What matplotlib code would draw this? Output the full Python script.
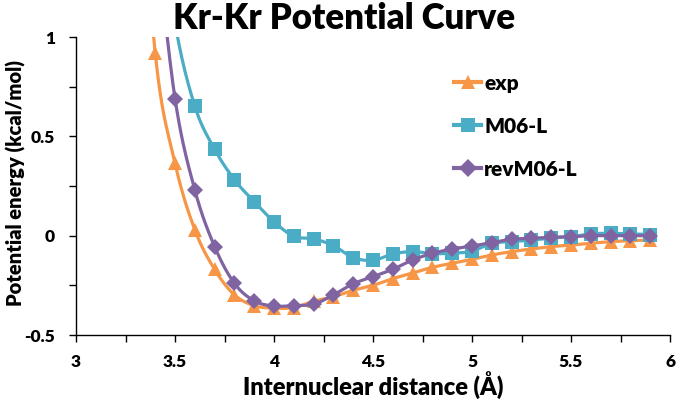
import numpy as np
import matplotlib
matplotlib.use("Agg")
import matplotlib.pyplot as plt

# ---- data ----
x_exp = [3.3, 3.4, 3.5, 3.6, 3.7, 3.8, 3.9, 4.0, 4.1, 4.2, 4.3, 4.4, 4.5, 4.6, 4.7, 4.8, 4.9,
         5.0, 5.1, 5.2, 5.3, 5.4, 5.5, 5.6, 5.7, 5.8, 5.9]
y_exp = [2.3, 0.92, 0.365, 0.03, -0.17, -0.298, -0.352, -0.365, -0.362, -0.33, -0.307, -0.275,
         -0.25, -0.216, -0.188, -0.159, -0.139, -0.119, -0.097, -0.08, -0.067, -0.055, -0.047,
         -0.038, -0.030, -0.025, -0.022]

x_m06 = [3.4, 3.5, 3.6, 3.7, 3.8, 3.9, 4.0, 4.1, 4.2, 4.3, 4.4, 4.5, 4.6, 4.7, 4.8, 4.9, 5.0,
         5.1, 5.2, 5.3, 5.4, 5.5, 5.6, 5.7, 5.8, 5.9]
y_m06 = [1.8, 1.07, 0.652, 0.435, 0.282, 0.171, 0.07, -0.003, -0.016, -0.05, -0.11, -0.124,
         -0.092, -0.08, -0.09, -0.088, -0.078, -0.038, -0.03, -0.022, -0.012, -0.005, 0.009,
         0.012, 0.009, 0.006]

x_rev = [3.4, 3.5, 3.6, 3.7, 3.8, 3.9, 4.0, 4.1, 4.2, 4.3, 4.4, 4.5, 4.6, 4.7, 4.8, 4.9, 5.0,
         5.1, 5.2, 5.3, 5.4, 5.5, 5.6, 5.7, 5.8, 5.9]
y_rev = [1.55, 0.69, 0.23, -0.055, -0.24, -0.328, -0.354, -0.352, -0.345, -0.298, -0.242,
         -0.206, -0.169, -0.122, -0.089, -0.067, -0.052, -0.035, -0.018, -0.013, -0.008, -0.005,
         0.0, 0.0, 0.0, 0.0]

labels = ["exp", "M06-L", "revM06-L"]
colors = ["#F79646", "#4BACC6", "#8064A2"]
markers = ["^", "s", "D"]

x_ticks = [3, 3.5, 4, 4.5, 5, 5.5, 6]
x_ticklabels = ["3", "3.5", "4", "4.5", "5", "5.5", "6"]
y_ticks = [-0.5, 0, 0.5, 1]
y_ticklabels = ["-0.5", "0", "0.5", "1"]


def smooth(x, y, n=20):
    """Catmull-Rom style smoothing (similar to Excel's smoothed lines)."""
    x = np.asarray(x, float)
    y = np.asarray(y, float)
    px = np.concatenate([[2 * x[0] - x[1]], x, [2 * x[-1] - x[-2]]])
    py = np.concatenate([[2 * y[0] - y[1]], y, [2 * y[-1] - y[-2]]])
    xs, ys = [], []
    t = np.linspace(0, 1, n, endpoint=False)
    for i in range(1, len(px) - 2):
        p0, p1, p2, p3 = (np.array([px[j], py[j]]) for j in range(i - 1, i + 3))
        c1 = p1 + (p2 - p0) / 6.0
        c2 = p2 - (p3 - p1) / 6.0
        b = ((1 - t) ** 3)[:, None] * p1 + (3 * (1 - t) ** 2 * t)[:, None] * c1 \
            + (3 * (1 - t) * t ** 2)[:, None] * c2 + (t ** 3)[:, None] * p2
        xs.extend(b[:, 0]); ys.extend(b[:, 1])
    xs.append(x[-1]); ys.append(y[-1])
    return np.array(xs), np.array(ys)


font = "Lato"
W = "heavy"
plt.rcParams["font.family"] = [font, "DejaVu Sans"]
plt.rcParams["font.weight"] = W

fig = plt.figure(figsize=(6.77, 4.03), dpi=100)
ax = fig.add_axes([0.1123, 0.1687, 0.8774, 0.7393])

handles = []
for xd, yd, lab, c, m in [(x_exp, y_exp, labels[0], colors[0], markers[0]),
                          (x_m06, y_m06, labels[1], colors[1], markers[1]),
                          (x_rev, y_rev, labels[2], colors[2], markers[2])]:
    sx, sy = smooth(xd, yd)
    ax.plot(sx, sy, color=c, lw=2.3, solid_capstyle="round")
    ms = 9.5 if m != "D" else 8.5
    ax.plot(xd, yd, linestyle="none", marker=m, color=c, markersize=ms, markeredgewidth=0)
    h, = ax.plot([], [], color=c, lw=3, marker=m, markersize=ms + 1, markeredgewidth=0, label=lab)
    handles.append(h)

ax.set_xlim(3, 6)
ax.set_ylim(-0.5, 1)
ax.set_xticks(x_ticks)
ax.set_xticklabels(x_ticklabels)
ax.set_yticks(y_ticks)
ax.set_yticklabels(y_ticklabels)
ax.set_xticks(np.arange(3.25, 6, 0.5), minor=True)
ax.set_yticks([-0.25, 0.25, 0.75], minor=True)
for s in ["top", "right"]:
    ax.spines[s].set_visible(False)
for s in ["left", "bottom"]:
    ax.spines[s].set_color("black")
    ax.spines[s].set_linewidth(1.0)
ax.tick_params(which="both", direction="out", length=5, width=1.0, color="black")
ax.tick_params(axis="both", which="major", labelsize=12.5)
ax.tick_params(axis="x", which="major", pad=9)
ax.tick_params(axis="y", which="major", pad=10)

ax.set_xlabel("Internuclear distance (Å)", fontsize=17, fontweight=W, labelpad=1)
ax.set_ylabel("Potential energy (kcal/mol)", fontsize=14.5, fontweight=W)
ax.yaxis.set_label_coords(-0.084, 0.51)
fig.text(0.508, 0.995, "Kr-Kr Potential Curve", ha="center", va="top",
         fontsize=25, fontweight=W)

leg = ax.legend(handles=handles, loc="upper left", bbox_to_anchor=(0.605, 0.94),
                frameon=False, handlelength=1.3, handletextpad=0.15,
                labelspacing=1.15, prop={"weight": W, "size": 15})

fig.savefig("out.png", dpi=100)
